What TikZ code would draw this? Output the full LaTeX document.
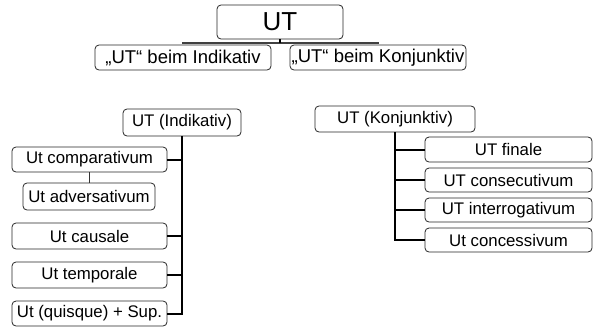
\documentclass[tikz,border=0pt]{standalone}
\usepackage{fontspec}
\setmainfont{Liberation Sans}
\usepackage{tikz}
\usetikzlibrary{positioning,calc}

\tikzset{
    box/.style={draw=black!85, line width=0.8pt, rounded corners=4pt, fill=white,
        inner sep=0pt, minimum height=25pt, font=\fontsize{16.8}{18}\selectfont},
    trunk/.style={line width=2pt, black},
    thin/.style={line width=1pt, black!80}
}

\begin{document}
\begin{tikzpicture}[x=1pt, y=-1pt]
    \useasboundingbox (0,0) rectangle (594,327);

    % Top level
    \coordinate (hl) at (182,42.5);
    \coordinate (hr) at (379,42.5);
    \draw[line width=2pt, black!75] (hl) -- (hr);
    \node[box, minimum width=126pt, minimum height=34pt, font=\fontsize{26}{28}\selectfont] (ut) at (280,22) {UT};
    \draw[line width=1.5pt] (ut.south) -- (ut.south |- hl);
    \node[box, minimum width=176pt, minimum height=25pt, font=\fontsize{18.5}{20}\selectfont] (uind) at (183,57.5) {„UT“ beim Indikativ};
    \node[box, minimum width=176pt, minimum height=25pt, font=\fontsize{18.5}{20}\selectfont] (ukonj) at (378,57.5) {„UT“ beim Konjunktiv};

    % Indikativ
    \node[box, minimum width=118pt, minimum height=27pt] (ind) at (182,122.5) {UT (Indikativ)};
    \node[box, minimum width=155pt] (comp) at (89.5,159.5) {Ut comparativum};
    \node[box, minimum width=132pt, minimum height=27pt] (adv) at (89,196.5) {Ut adversativum};
    \node[box, minimum width=155pt, minimum height=26pt] (caus) at (89.5,236) {Ut causale};
    \node[box, minimum width=155pt, minimum height=26pt] (temp) at (89.5,275) {Ut temporale};
    \node[box, minimum width=155pt] (quis) at (89.5,313.5) {Ut (quisque) + Sup.};

    \draw[trunk] (ind.south) |- (quis.east);
    \foreach \n in {comp,caus,temp}
        \draw[trunk] (\n.east) -- (\n.east -| ind.south);
    \draw[thin] (adv.north) -- (adv.north |- comp.south);

    % Konjunktiv
    \node[box, minimum width=160pt, minimum height=26pt] (konj) at (395,119) {UT (Konjunktiv)};
    \node[box, minimum width=167pt] (fin) at (508.5,149.5) {UT finale};
    \node[box, minimum width=167pt, minimum height=24pt] (cons) at (508.5,180) {UT consecutivum};
    \node[box, minimum width=167pt, minimum height=24pt] (inter) at (508.5,210) {UT interrogativum};
    \node[box, minimum width=167pt, minimum height=24pt] (conc) at (508.5,240) {Ut concessivum};

    \draw[trunk] (konj.south) |- (conc.west);
    \foreach \n in {fin,cons,inter}
        \draw[trunk] (\n.west) -- (\n.west -| konj.south);
\end{tikzpicture}
\end{document}
